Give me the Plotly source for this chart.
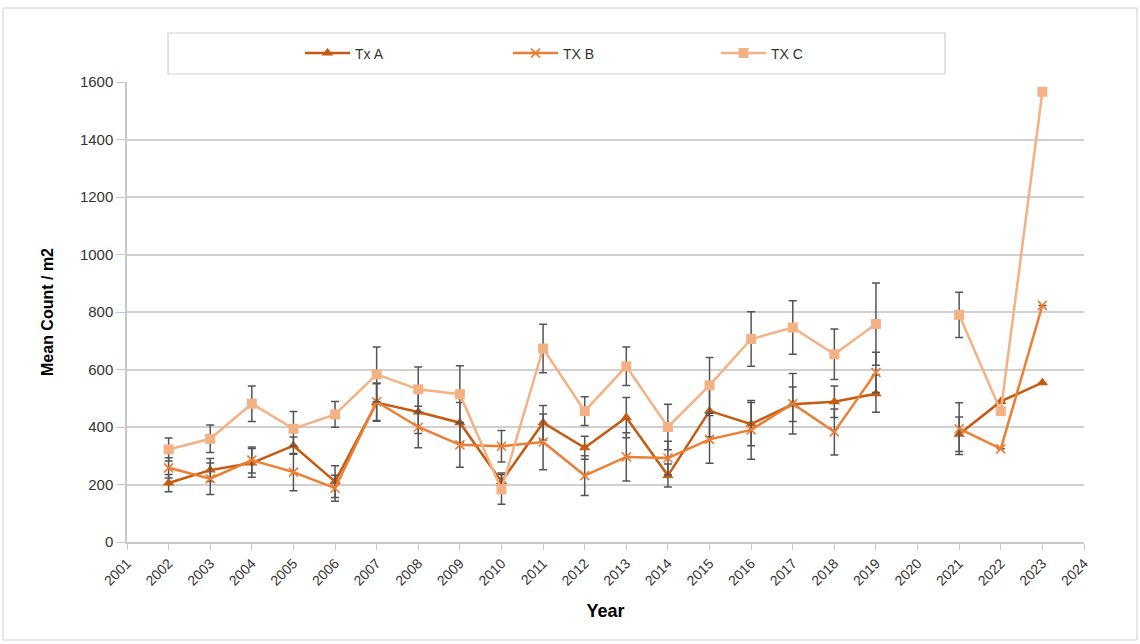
import plotly.graph_objects as go

years = list(range(2002, 2024))
tx_a = [205, 250, 275, 335, 210, 485, 452, 415, 210, 415, 328, 433, 231, 456, 410, 479, 488, 516, None, 375, 489, 554]
tx_b = [258, 220, 285, 243, 187, 488, 400, 338, 333, 348, 231, 296, 292, 357, 390, 481, 383, 590, None, 394, 324, 823]
tx_c = [322, 359, 481, 394, 444, 583, 531, 514, 183, 673, 455, 611, 400, 545, 706, 746, 653, 758, None, 790, 455, 1566]
err_a = [30, 40, 50, 30, 55, 65, 75, 70, 30, 60, 40, 70, 40, 90, 75, 60, 55, 65, None, 60, None, None]
err_b = [35, 55, 45, 65, 45, 65, 72, 78, 55, 97, 69, 84, 58, 83, 102, 105, 80, 70, None, 90, None, None]
err_c = [40, 48, 62, 60, 45, 95, 78, 99, 52, 84, 50, 67, 79, 97, 95, 93, 88, 143, None, 79, None, None]

col_a = "#C55A11"
col_b = "#ED7D31"
col_c = "#F4B183"
err_col = "#555555"

fig = go.Figure()

def add(name, y, err, color, symbol, msize, mline=0):
    fig.add_trace(go.Scatter(
        x=years, y=y, name=name, mode="lines+markers",
        line=dict(color=color, width=2.5),
        marker=dict(symbol=symbol, size=msize, color=color,
                    line=dict(color=color, width=mline)),
        error_y=dict(type="data", array=err, visible=True,
                     color=err_col, thickness=1.5, width=4),
        connectgaps=False,
    ))

add("Tx A", tx_a, err_a, col_a, "triangle-up", 10)
add("TX B", tx_b, err_b, col_b, "x-thin", 9, 1.6)
add("TX C", tx_c, err_c, col_c, "square", 10)

L, R, T, B = 127, 56, 82, 102
PW = 1140 - L - R
PH = 644 - T - B

def px(xp):
    return (xp - L) / PW

def py(yp):
    return (644 - B - yp) / PH

shapes = [
    dict(type="rect", xref="paper", yref="paper",
         x0=px(3), x1=px(1137), y0=py(640), y1=py(8),
         line=dict(color="#D0D0D0", width=1), fillcolor="rgba(0,0,0,0)", layer="below"),
    dict(type="rect", xref="paper", yref="paper",
         x0=px(168), x1=px(945), y0=py(74), y1=py(33),
         line=dict(color="#D0D0D0", width=1.2), fillcolor="rgba(0,0,0,0)", layer="below"),
]

fig.update_layout(
    width=1140, height=644,
    margin=dict(l=L, r=R, t=T, b=B),
    paper_bgcolor="white", plot_bgcolor="white",
    font=dict(family="Liberation Sans, Arial, sans-serif", color="#333333", size=14),
    shapes=shapes,
    showlegend=True,
    legend=dict(orientation="h", x=px(300), xanchor="left", y=py(53.5), yanchor="middle",
                entrywidth=148, entrywidthmode="pixels",
                font=dict(size=14, color="#333333"), bgcolor="rgba(0,0,0,0)",
                itemwidth=45),
    xaxis=dict(range=[2001, 2024], tickmode="linear", tick0=2001, dtick=1,
               tickangle=-45, showgrid=False, showline=True, linecolor="#C8C8C8", linewidth=1.5,
               ticks="outside", ticklen=6, tickcolor="#C8C8C8", tickwidth=1.2,
               tickfont=dict(size=14, color="#333333"),
               title=dict(text="<b>Year</b>", font=dict(size=18, color="#000000"), standoff=17),
               zeroline=False),
    yaxis=dict(range=[0, 1600], dtick=200, showgrid=True, gridcolor="#D0D0D0", gridwidth=1.5,
               showline=True, linecolor="#C8C8C8", linewidth=1.5,
               ticks="outside", ticklen=9, tickcolor="#C8C8C8",
               tickfont=dict(size=15, color="#333333"),
               title=dict(text="<b>Mean Count / m2</b>", font=dict(size=16, color="#000000"), standoff=22),
               zeroline=False),
)

fig.write_html("out.html")
